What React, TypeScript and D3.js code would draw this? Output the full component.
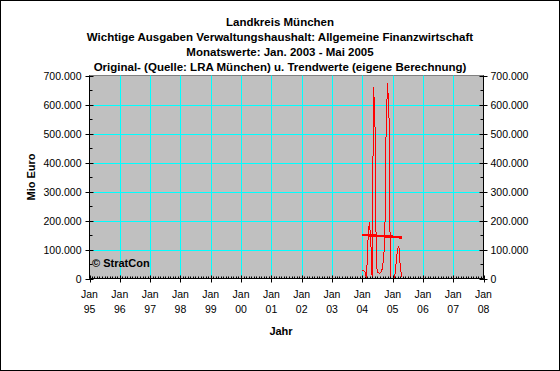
import React from 'react';
import * as d3 from 'd3';

// Monatswerte (Tsd. Euro), as placed in the chart
const months = [
  '2003-01', '2003-02', '2003-03', '2003-04', '2003-05', '2003-06', '2003-07', '2003-08',
  '2003-09', '2003-10', '2003-11', '2003-12', '2004-01', '2004-02', '2004-03', '2004-04',
  '2004-05', '2004-06', '2004-07', '2004-08', '2004-09', '2004-10', '2004-11', '2004-12',
  '2005-01', '2005-02', '2005-03', '2005-04', '2005-05',
];
const originalValues = [
  27000, 26000, 22000, 0, 126000, 193000, 140000, 0, 662000, 555000, 40000, 22000, 18000, 20000,
  30000, 60000, 127000, 540000, 673000, 555000, 2000, 0, 0, 3000, 50000, 100000, 113000, 40000, 5000,
];
const trendValues = [
  150000, 150000, 150000, 149700, 149400, 149100, 148800, 148500, 148200, 147900, 147600, 147300,
  147000, 146700, 146400, 146100, 145800, 145500, 145200, 144900, 144600, 144300, 144000, 143600,
  143200, 142800, 142400, 142000, 141600,
];
const yTicks = [0, 100000, 200000, 300000, 400000, 500000, 600000, 700000];
const yearLabels = ['95', '96', '97', '98', '99', '00', '01', '02', '03', '04', '05', '06', '07', '08'];
const titleLines = [
  'Landkreis München',
  'Wichtige Ausgaben Verwaltungshaushalt: Allgemeine Finanzwirtschaft',
  'Monatswerte: Jan. 2003 - Mai 2005',
  'Original- (Quelle: LRA München) u. Trendwerte (eigene Berechnung)',
];

const W = 560;
const H = 371;
const font = '"Liberation Sans", Arial, sans-serif';

const App: React.FC = () => {
  const left = 89.5;
  const right = 483.5;
  const top = 75.5;
  const bottom = 278.5;

  const x = d3
    .scaleTime()
    .domain([new Date(1995, 0, 1), new Date(2008, 0, 1)])
    .range([left, right]);
  const y = d3.scaleLinear().domain([0, 700000]).range([bottom, top]);

  // the series sits between Jan 04 and spring 05 on the date axis
  const idx = d3
    .scaleLinear()
    .domain([0, months.length - 1])
    .range([x(new Date(2004, 0, 1)), x(new Date(2005, 3, 20))]);

  const years = yearLabels.map((_, i) => new Date(1995 + i, 0, 1));
  const monthTicks = d3.timeMonth.range(new Date(1995, 0, 1), new Date(2008, 0, 2));
  const minorY = d3.range(50000, 700000, 100000);

  const fmt = d3.formatLocale({ decimal: ',', thousands: '.', grouping: [3], currency: ['', '€'] }).format(',');

  const line = d3
    .line<number>()
    .x((_, i) => idx(i))
    .y((d) => y(d));

  return (
    <svg width={W} height={H} style={{ position: 'absolute', left: 0, top: 0 }} fontFamily={font}>
      <rect x={0.5} y={0.5} width={W - 1} height={H - 1} fill="#fff" stroke="#000" />
      {titleLines.map((t, i) => (
        <text key={i} x={280} y={26 + i * 15} textAnchor="middle" fontSize={11.5} fontWeight="bold">
          {t}
        </text>
      ))}

      <rect x={left} y={top} width={right - left} height={bottom - top} fill="#c0c0c0" stroke="#808080" />

      {/* grid */}
      {yTicks.slice(1, -1).map((v) => (
        <line key={v} x1={left} x2={right} y1={Math.round(y(v)) + 0.5} y2={Math.round(y(v)) + 0.5} stroke="#00ffff" />
      ))}
      {years.slice(1, -1).map((d, i) => (
        <line key={i} x1={Math.round(x(d)) + 0.5} x2={Math.round(x(d)) + 0.5} y1={top} y2={bottom} stroke="#00ffff" />
      ))}

      <text x={92} y={267} fontSize={11} fontWeight="bold">
        © StratCon
      </text>

      {/* data */}
      <path d={line(originalValues) ?? ''} fill="none" stroke="#ff0000" strokeWidth={1} shapeRendering="crispEdges" />
      <path d={line(trendValues) ?? ''} fill="none" stroke="#ff0000" strokeWidth={2.5} shapeRendering="crispEdges" />

      {/* axes */}
      <line x1={left} x2={left} y1={top} y2={bottom} stroke="#000" />
      <line x1={right} x2={right} y1={top} y2={bottom} stroke="#000" />
      <line x1={left} x2={right} y1={bottom} y2={bottom} stroke="#000" />
      {yTicks.map((v) => (
        <g key={v}>
          <line x1={left - 4} x2={left + 4} y1={Math.round(y(v)) + 0.5} y2={Math.round(y(v)) + 0.5} stroke="#000" />
          <line x1={right - 4} x2={right + 4} y1={Math.round(y(v)) + 0.5} y2={Math.round(y(v)) + 0.5} stroke="#000" />
          <text x={left - 8} y={y(v) + 4} textAnchor="end" fontSize={10.5}>
            {fmt(v)}
          </text>
          <text x={right + 7} y={y(v) + 4} textAnchor="start" fontSize={10.5}>
            {fmt(v)}
          </text>
        </g>
      ))}
      {minorY.map((v) => (
        <g key={v}>
          <line x1={left} x2={left + 3} y1={Math.round(y(v)) + 0.5} y2={Math.round(y(v)) + 0.5} stroke="#000" />
          <line x1={right - 3} x2={right} y1={Math.round(y(v)) + 0.5} y2={Math.round(y(v)) + 0.5} stroke="#000" />
        </g>
      ))}
      {monthTicks.map((d, i) => (
        <line key={i} x1={Math.round(x(d)) + 0.5} x2={Math.round(x(d)) + 0.5} y1={bottom - 2} y2={bottom} stroke="#000" />
      ))}
      {years.map((d, i) => (
        <g key={i}>
          <line x1={Math.round(x(d)) + 0.5} x2={Math.round(x(d)) + 0.5} y1={bottom - 3} y2={bottom + 4} stroke="#000" />
          <text x={x(d)} y={298} textAnchor="middle" fontSize={10.5}>
            Jan
          </text>
          <text x={x(d)} y={313} textAnchor="middle" fontSize={10.5}>
            {yearLabels[i]}
          </text>
        </g>
      ))}

      <text x={281} y={335} textAnchor="middle" fontSize={11} fontWeight="bold">
        Jahr
      </text>
      <text transform="translate(35,177) rotate(-90)" textAnchor="middle" fontSize={11} fontWeight="bold">
        Mio Euro
      </text>
    </svg>
  );
};

export default App;
